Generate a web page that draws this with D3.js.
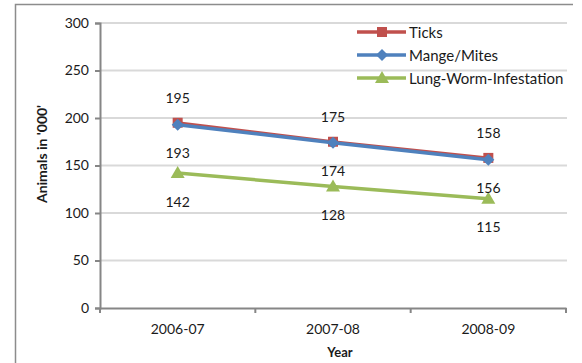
<!DOCTYPE html>
<html>
<head>
<meta charset="utf-8">
<script src="https://cdn.jsdelivr.net/npm/d3@7"></script>
<style>
  body { margin: 0; background: #fff; }
  text { font-family: Lato, "Open Sans", sans-serif; fill: #1a1a1a; }
</style>
</head>
<body>
<script>
const years = ['2006-07', '2007-08', '2008-09']
const seriesNames = ['Ticks', 'Mange/Mites', 'Lung-Worm-Infestation']
const ticksVals = [195, 175, 158]
const mangeVals = [193, 174, 156]
const lungVals = [142, 128, 115]
const yTicks = [0, 50, 100, 150, 200, 250, 300]

const colors = ['#C0504D', '#4F81BD', '#9BBB59']
const series = [ticksVals, mangeVals, lungVals]
// label offsets: ticks above, others below
const labelDy = [-25, 28, 28]

const W = 582, H = 363
const svg = d3.select('body').append('svg')
  .attr('width', W).attr('height', H)

// outer frame (partially visible)
svg.append('path')
  .attr('d', 'M15.5,363 L15.5,4.5 L573,4.5')
  .attr('fill', 'none').attr('stroke', '#8c8c8c').attr('stroke-width', 1.5)

const x = d3.scaleBand().domain(years).range([100, 566])
const y = d3.scaleLinear().domain([0, 300]).range([308, 23])

// gridlines
svg.append('g')
  .selectAll('line')
  .data(yTicks.filter(d => d > 0))
  .enter().append('line')
  .attr('x1', 100).attr('x2', 567)
  .attr('y1', d => y(d)).attr('y2', d => y(d))
  .attr('stroke', '#d9d9d9').attr('stroke-width', 2)

// y axis
const yAxis = svg.append('g')
  .attr('transform', 'translate(100,0)')
  .call(d3.axisLeft(y).tickValues(yTicks).tickSize(5).tickPadding(6))
yAxis.select('.domain').attr('stroke', '#868686').attr('stroke-width', 2)
yAxis.selectAll('.tick line').attr('stroke', '#868686').attr('stroke-width', 2)
yAxis.selectAll('text').style('font-size', '14px').attr('fill', '#1a1a1a')

// x axis
const xAxis = svg.append('g')
  .attr('transform', 'translate(0,308)')
  .call(d3.axisBottom(x).tickSize(0).tickPadding(16))
xAxis.select('.domain').attr('stroke', '#868686').attr('stroke-width', 2)
xAxis.selectAll('text').style('font-size', '14px').attr('fill', '#1a1a1a')
// tick marks at category boundaries
xAxis.selectAll('.bound')
  .data([0, 1, 2, 3])
  .enter().append('line')
  .attr('x1', i => 100 + i * x.step()).attr('x2', i => 100 + i * x.step())
  .attr('y1', 0).attr('y2', 5)
  .attr('stroke', '#868686').attr('stroke-width', 2)

const cx = d => x(d) + x.bandwidth() / 2

const line = d3.line()
  .x((d, i) => cx(years[i]))
  .y(d => y(d))

function drawMarker(g, k, px, py) {
  if (k === 0) {
    g.append('rect').attr('x', px - 5).attr('y', py - 5)
      .attr('width', 10).attr('height', 10).attr('fill', colors[0])
  } else if (k === 1) {
    g.append('path')
      .attr('d', `M${px},${py - 6} L${px + 6},${py} L${px},${py + 6} L${px - 6},${py} Z`)
      .attr('fill', colors[1])
  } else {
    g.append('path')
      .attr('d', `M${px},${py - 7} L${px + 7},${py + 5} L${px - 7},${py + 5} Z`)
      .attr('fill', colors[2])
  }
}

series.forEach((vals, k) => {
  const g = svg.append('g')
  g.append('path')
    .datum(vals)
    .attr('d', line)
    .attr('fill', 'none')
    .attr('stroke', colors[k])
    .attr('stroke-width', k === 0 ? 3 : 3.5)
  vals.forEach((v, i) => drawMarker(g, k, cx(years[i]), y(v)))
})

// data labels
series.forEach((vals, k) => {
  svg.append('g').selectAll('text')
    .data(vals)
    .enter().append('text')
    .attr('x', (d, i) => cx(years[i]))
    .attr('y', d => y(d) + labelDy[k])
    .attr('text-anchor', 'middle')
    .attr('dominant-baseline', 'central')
    .style('font-size', '14px')
    .text(d => d)
})

// legend
const legend = svg.append('g')
seriesNames.forEach((name, k) => {
  const ly = 32 + k * 23
  legend.append('line')
    .attr('x1', 357).attr('x2', 406).attr('y1', ly).attr('y2', ly)
    .attr('stroke', colors[k]).attr('stroke-width', 3.5)
  drawMarker(legend, k, 382, ly)
  legend.append('text')
    .attr('x', 409).attr('y', ly)
    .attr('dominant-baseline', 'central')
    .style('font-size', '15px')
    .text(name)
})

// axis titles
svg.append('text')
  .attr('x', 340).attr('y', 352)
  .attr('text-anchor', 'middle').attr('dominant-baseline', 'central')
  .style('font-size', '13px').style('font-weight', 'bold')
  .text('Year')

svg.append('text')
  .attr('transform', 'translate(41,154) rotate(-90)')
  .attr('text-anchor', 'middle').attr('dominant-baseline', 'central')
  .style('font-size', '14px').style('font-weight', 'bold')
  .text("Animals in '000'")
</script>
</body>
</html>
